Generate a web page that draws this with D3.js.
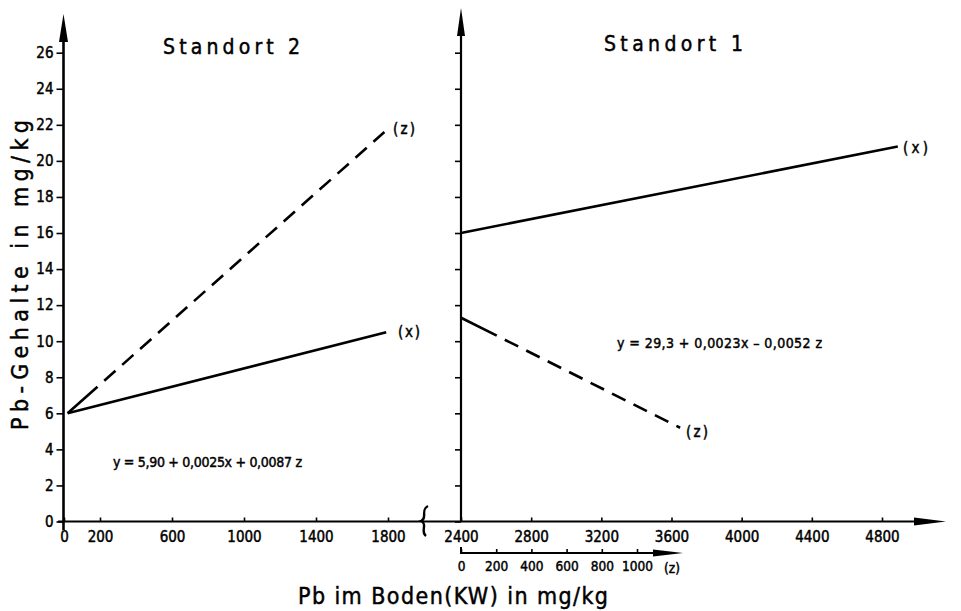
<!DOCTYPE html>
<html>
<head>
<meta charset="utf-8">
<script src="https://cdn.jsdelivr.net/npm/d3@7"></script>
<style>
  body { margin: 0; background: #fff; }
  text { stroke: #000; stroke-width: 0.45px; }
</style>
</head>
<body>
<div id="vis"></div>
<script>
// Declare constants
const FRAME_WIDTH = 961;
const FRAME_HEIGHT = 611;
const FONT = "'DejaVu Sans Condensed', 'DejaVu Sans', sans-serif";

// tick labels
const Y_TICKS = [0, 2, 4, 6, 8, 10, 12, 14, 16, 18, 20, 22, 24, 26];
const LEFT_X_TICKS = [0, 200, 600, 1000, 1400, 1800];
const RIGHT_X_TICKS = [2400, 2800, 3200, 3600, 4000, 4400, 4800];
const Z_TICKS = [0, 200, 400, 600, 800, 1000];

// regression lines
const SITE2_X = [{x: 20, y: 6.0}, {x: 1790, y: 10.5}];
const SITE2_Z = [{x: 20, y: 6.0}, {x: 1780, y: 21.6}];
const SITE1_X = [{x: 2400, y: 16.0}, {x: 4890, y: 20.8}];
const SITE1_Z = [{z: 0, y: 11.3}, {z: 1245, y: 5.2}];

const INK = "#000";

const FRAME = d3.select("#vis")
                .append("svg")
                  .attr("width", FRAME_WIDTH)
                  .attr("height", FRAME_HEIGHT)
                  .style("font-family", FONT);

// scales
const Y_SCALE = d3.scaleLinear().domain([0, 26]).range([521.5, 52.7]);
const XL_SCALE = d3.scaleLinear().domain([0, 1800]).range([64, 388]);
const XR_SCALE = d3.scaleLinear().domain([2400, 4800]).range([461, 882]);
const Z_SCALE = d3.scaleLinear().domain([0, 1000]).range([461, 637]);

const X0 = XL_SCALE(0) - 0.5;   // left y axis
const XR0 = XR_SCALE(2400);     // right y axis
const Y0 = Y_SCALE(0);          // x axis
const ZY = 553;                 // z sub axis

// filled arrow head, tip at (x,y)
function arrow(x, y, dir, len, half) {
  let pts;
  if (dir === "up") pts = [[x, y], [x - half, y + len], [x + half, y + len]];
  else pts = [[x, y], [x - len, y - half], [x - len, y + half]];
  FRAME.append("polygon")
    .attr("points", pts.map(p => p.join(",")).join(" "))
    .attr("fill", INK);
}

// style axis groups the same way
function styleAxis(g, size) {
  g.select(".domain").remove();
  g.attr("font-family", FONT);
  g.selectAll(".tick line").attr("stroke", INK).attr("stroke-width", 1.6);
  g.selectAll(".tick text").attr("fill", INK).style("font-size", size + "px");
}

// axis lines
FRAME.append("line")
  .attr("x1", X0).attr("x2", X0).attr("y1", 530).attr("y2", 30)
  .attr("stroke", INK).attr("stroke-width", 2.6);
arrow(X0, 14, "up", 28, 4.5);

FRAME.append("line")
  .attr("x1", XR0).attr("x2", XR0).attr("y1", Y0).attr("y2", 25)
  .attr("stroke", INK).attr("stroke-width", 2.2);
arrow(XR0, 8, "up", 28, 4);

FRAME.append("line")
  .attr("x1", 58).attr("x2", 925).attr("y1", Y0).attr("y2", Y0)
  .attr("stroke", INK).attr("stroke-width", 2.2);
arrow(946, Y0, "right", 32, 4);

// y ticks
FRAME.append("g")
  .attr("transform", "translate(" + X0 + ",0)")
  .call(d3.axisLeft(Y_SCALE).tickValues(Y_TICKS).tickSize(7).tickPadding(3))
  .call(g => styleAxis(g, 15));

FRAME.append("g")
  .attr("transform", "translate(" + XR0 + ",0)")
  .call(d3.axisLeft(Y_SCALE).tickValues(Y_TICKS).tickSize(6).tickFormat(""))
  .call(g => styleAxis(g, 15));

// x ticks
FRAME.append("g")
  .attr("transform", "translate(0," + Y0 + ")")
  .call(d3.axisBottom(XL_SCALE).tickValues(LEFT_X_TICKS).tickSize(-4)
          .tickPadding(10).tickFormat(d3.format("d")))
  .call(g => styleAxis(g, 15));

FRAME.append("g")
  .attr("transform", "translate(0," + Y0 + ")")
  .call(d3.axisBottom(XR_SCALE).tickValues(RIGHT_X_TICKS).tickSize(-4)
          .tickPadding(10).tickFormat(d3.format("d")))
  .call(g => styleAxis(g, 15));

// z sub axis
FRAME.append("path")
  .attr("d", "M" + XR0 + "," + (ZY - 6) + "V" + ZY + "H665")
  .attr("fill", "none").attr("stroke", INK).attr("stroke-width", 2);
arrow(683, ZY, "right", 30, 3.5);

FRAME.append("g")
  .attr("transform", "translate(0," + ZY + ")")
  .call(d3.axisBottom(Z_SCALE).tickValues(Z_TICKS).tickSize(-4)
          .tickPadding(8).tickFormat(d3.format("d")))
  .call(g => styleAxis(g, 13.5));

FRAME.append("text")
  .attr("x", 672).attr("y", ZY + 20)
  .attr("text-anchor", "middle")
  .style("font-size", "13.5px")
  .attr("fill", INK)
  .text("(z)");

// axis break
FRAME.append("path")
  .attr("d", "M428,506 C420,510 428,518 421,521 C428,524 420,532 426,536")
  .attr("fill", "none").attr("stroke", INK).attr("stroke-width", 2.4);

// lines
const lineL = d3.line().x(d => XL_SCALE(d.x)).y(d => Y_SCALE(d.y));
const lineR = d3.line().x(d => XR_SCALE(d.x)).y(d => Y_SCALE(d.y));
const lineZ = d3.line().x(d => Z_SCALE(d.z)).y(d => Y_SCALE(d.y));

// long first dash, then regular dashes
function dashes(first) {
  let a = [first, 9];
  for (let i = 0; i < 40; i++) a.push(15, 9);
  return a.join(",");
}

FRAME.append("path").attr("d", lineL(SITE2_X))
  .attr("stroke", INK).attr("stroke-width", 2.6).attr("fill", "none");
FRAME.append("path").attr("d", lineL(SITE2_Z))
  .attr("stroke", INK).attr("stroke-width", 2.6).attr("fill", "none")
  .attr("stroke-dasharray", dashes(40));
FRAME.append("path").attr("d", lineR(SITE1_X))
  .attr("stroke", INK).attr("stroke-width", 2.6).attr("fill", "none");
FRAME.append("path").attr("d", lineZ(SITE1_Z))
  .attr("stroke", INK).attr("stroke-width", 2.6).attr("fill", "none")
  .attr("stroke-dasharray", dashes(40));

// text helper; len forces the width seen in the reference
function label(x, y, t, size, len) {
  const txt = FRAME.append("text")
    .attr("x", x).attr("y", y)
    .attr("dominant-baseline", "middle")
    .attr("fill", INK)
    .style("font-size", size + "px")
    .text(t);
  if (len) txt.attr("textLength", len).attr("lengthAdjust", "spacing");
  return txt;
}
label(393, 129, "(z)", 15, 22);
label(398, 332, "(x)", 15, 22);
label(903, 148, "(x)", 15, 25);
label(686, 432, "(z)", 15, 22);

// equations
label(113, 463, "y = 5,90 + 0,0025x + 0,0087 z", 14, 189);
label(617, 344, "y = 29,3 + 0,0023x \u2013 0,0052 z", 14, 205);

// titles
label(163, 48, "Standort 2", 21, 137);
label(604, 45, "Standort 1", 21, 139);

FRAME.append("text")
  .attr("x", 298).attr("y", 604)
  .style("font-size", "23px")
  .attr("textLength", 310).attr("lengthAdjust", "spacing")
  .attr("fill", INK)
  .text("Pb im Boden(KW) in mg/kg");

FRAME.append("text")
  .attr("transform", "translate(28,430) rotate(-90)")
  .style("font-size", "23px")
  .attr("textLength", 310).attr("lengthAdjust", "spacing")
  .attr("fill", INK)
  .text("Pb-Gehalte in mg/kg");
</script>
</body>
</html>
